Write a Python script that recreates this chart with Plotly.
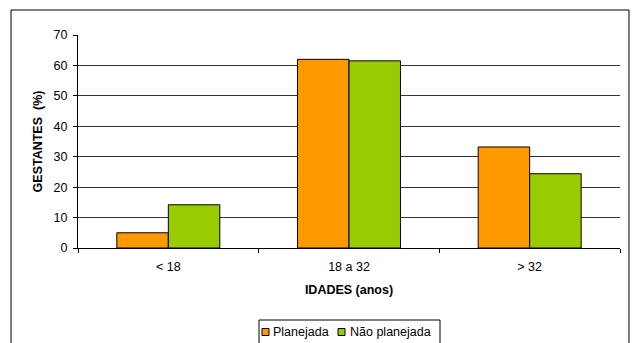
import plotly.graph_objects as go

# Age groups and share of pregnant women (%) by pregnancy type
idades = ["< 18", "18 a 32", "> 32"]
planejada = [5.0, 62.0, 33.2]
nao_planejada = [14.2, 61.5, 24.4]
y_ticks = [0, 10, 20, 30, 40, 50, 60, 70]
series_names = ["Planejada", "Não planejada"]
series_colors = ["#FF9900", "#99CC00"]

font = "Liberation Sans, Arial, sans-serif"

W, H = 633, 343
L, R, T, B = 78, 13, 35, 95
pw = W - L - R
ph = H - T - B


def px(x):
    return (x - L) / pw


def py(y):
    return (T + ph - y) / ph


fig = go.Figure()
for name, vals, col in zip(series_names, [planejada, nao_planejada], series_colors):
    fig.add_trace(go.Bar(x=idades, y=vals, name=name,
                         marker=dict(color=col, line=dict(color="#000000", width=1))))

# Outer chart frame
shapes = [dict(type="rect", xref="paper", yref="paper",
               x0=px(11), x1=px(629), y0=py(360), y1=py(10),
               line=dict(color="#000000", width=1), fillcolor="rgba(0,0,0,0)",
               layer="below")]

# Legend box, drawn by hand so it can sit at the bottom edge
shapes.append(dict(type="rect", xref="paper", yref="paper",
                   x0=px(259), x1=px(440), y0=py(360), y1=py(320),
                   line=dict(color="#000000", width=1), fillcolor="white"))
annotations = []
legend_x = [(262, 271), (338, 348)]
for (sx, tx), name, col in zip(legend_x, series_names, series_colors):
    shapes.append(dict(type="rect", xref="paper", yref="paper",
                       x0=px(sx), x1=px(sx + 7), y0=py(335.5), y1=py(328.5),
                       line=dict(color="#000000", width=1), fillcolor=col))
    annotations.append(dict(text=name, xref="paper", yref="paper",
                            x=px(tx), y=py(332), xanchor="left", yanchor="middle",
                            showarrow=False, font=dict(family=font, size=12.5)))

fig.update_layout(
    width=W, height=H,
    margin=dict(l=L, r=R, t=T, b=B, pad=0),
    paper_bgcolor="white", plot_bgcolor="white",
    barmode="group", bargap=0.43, bargroupgap=0,
    font=dict(family=font, size=12, color="#000000"),
    showlegend=False,
    xaxis=dict(type="category", showline=True, linecolor="#000000", linewidth=1,
               ticks="outside", tickson="boundaries", ticklen=4, tickcolor="#000000",
               showgrid=False, tickfont=dict(size=12.5), ticklabelstandoff=7,
               title=dict(text="<b>IDADES (anos)</b>", font=dict(size=12.5), standoff=12)),
    yaxis=dict(range=[0, 70], tickvals=y_ticks, showline=True, linecolor="#000000",
               linewidth=1, ticks="outside", ticklen=4, tickcolor="#000000",
               showgrid=True, gridcolor="#333333", gridwidth=1, zeroline=False,
               tickfont=dict(size=12.5), ticklabelstandoff=3,
               title=dict(text="<b>GESTANTES  (%)</b>", font=dict(size=12.5), standoff=8)),
    shapes=shapes,
    annotations=annotations,
)

fig.write_html("out.html")
